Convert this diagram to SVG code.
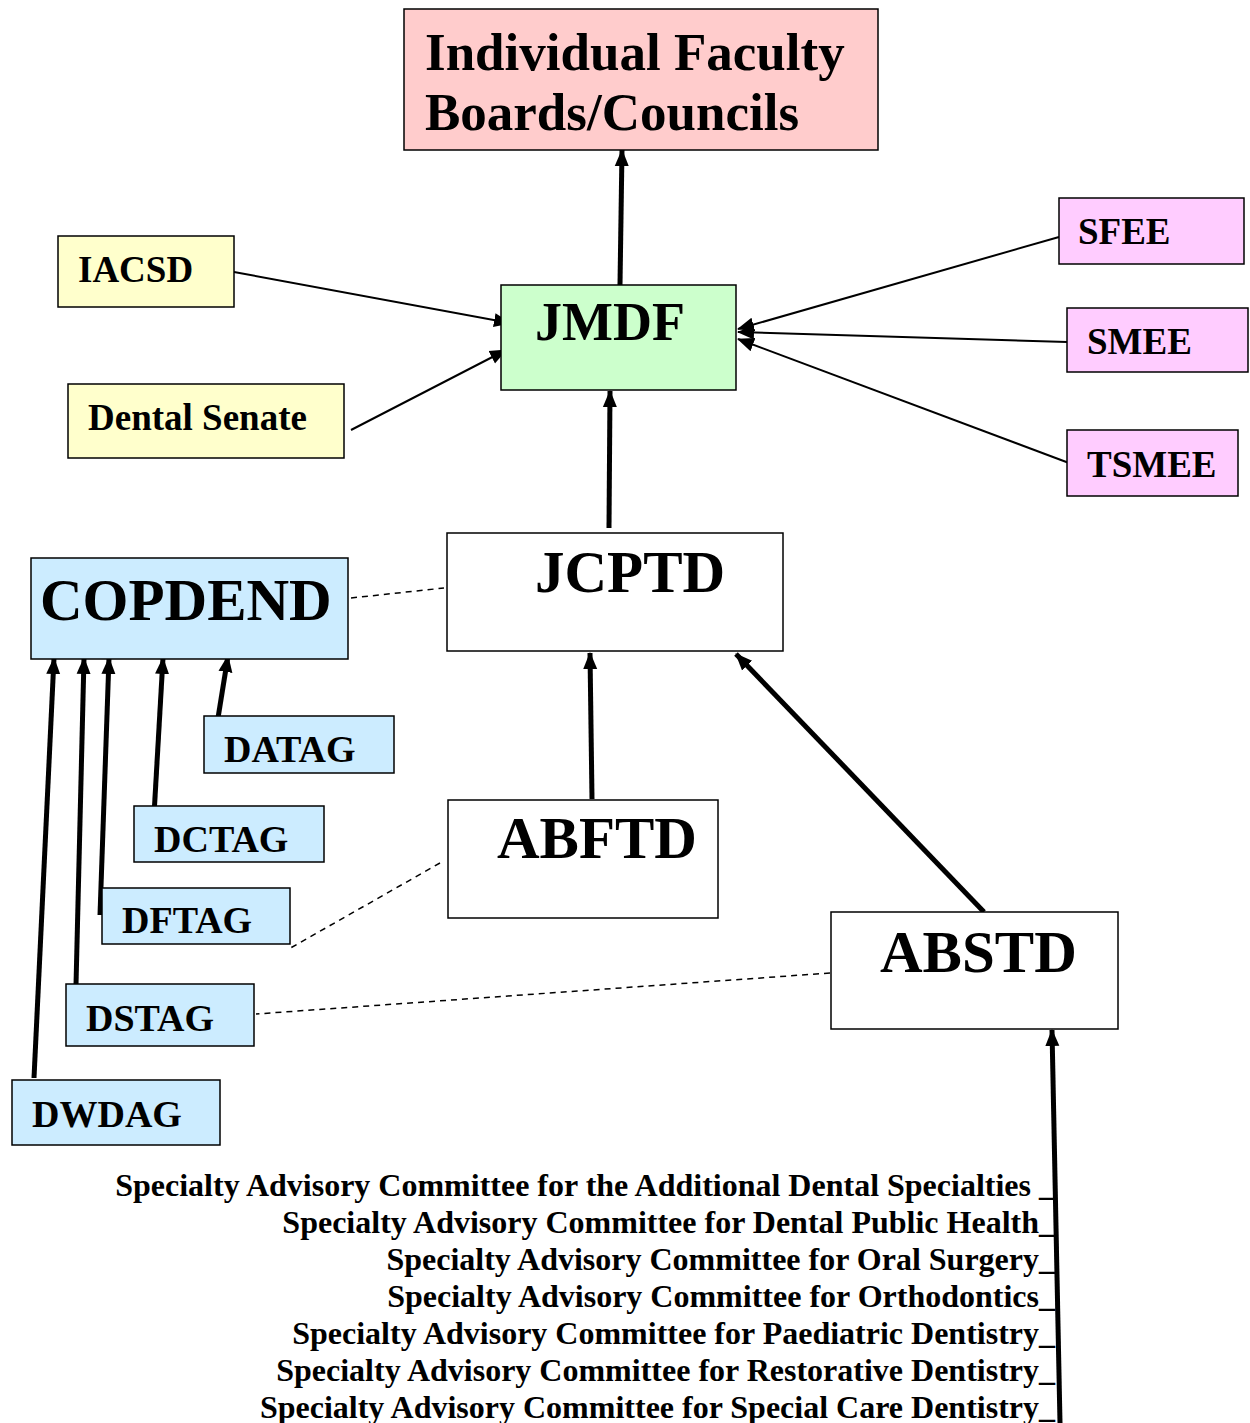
<svg xmlns="http://www.w3.org/2000/svg" width="1250" height="1423" viewBox="0 0 1250 1423">
<style>
.box{stroke:#000;stroke-width:1.5}
.t{font-family:"Liberation Serif","Times New Roman",serif;font-weight:bold;fill:#000}
.thick{stroke:#000;stroke-width:5;fill:none}
.thin{stroke:#000;stroke-width:2;fill:none}
.dash{stroke:#000;stroke-width:1.5;stroke-dasharray:6,5;fill:none}
</style>
<defs>
<marker id="ah" markerUnits="userSpaceOnUse" markerWidth="18" markerHeight="18" refX="16" refY="9" orient="auto">
<path d="M0,2 L17,9 L0,16 Z" fill="#000"/>
</marker>
</defs>
<rect width="1250" height="1423" fill="#fff"/>
<g id="connectors">
<line class="thick" x1="620" y1="285" x2="622" y2="150" marker-end="url(#ah)"/>
<line class="thin" x1="234" y1="272" x2="510" y2="323" marker-end="url(#ah)"/>
<line class="thin" x1="351" y1="430" x2="506" y2="350" marker-end="url(#ah)"/>
<line class="thin" x1="1059" y1="237" x2="738" y2="329" marker-end="url(#ah)"/>
<line class="thin" x1="1067" y1="342" x2="738" y2="332" marker-end="url(#ah)"/>
<line class="thin" x1="1069" y1="463" x2="738" y2="339" marker-end="url(#ah)"/>
<line class="thick" x1="609" y1="528" x2="610" y2="391" marker-end="url(#ah)"/>
<line class="dash" x1="351" y1="598" x2="444" y2="588"/>
<line class="thick" x1="592" y1="799" x2="590" y2="653" marker-end="url(#ah)"/>
<line class="thick" x1="984" y1="912" x2="736" y2="654" marker-end="url(#ah)"/>
<line class="dash" x1="440" y1="863" x2="287" y2="950"/>
<line class="dash" x1="830" y1="973" x2="256" y2="1014"/>
<line class="thick" x1="218" y1="718" x2="228" y2="656" marker-end="url(#ah)"/>
<line class="thick" x1="154" y1="815" x2="163" y2="658" marker-end="url(#ah)"/>
<line class="thick" x1="100" y1="915" x2="109" y2="658" marker-end="url(#ah)"/>
<line class="thick" x1="76" y1="985" x2="84" y2="658" marker-end="url(#ah)"/>
<line class="thick" x1="34" y1="1078" x2="54" y2="658" marker-end="url(#ah)"/>
<line class="thick" x1="1060" y1="1423" x2="1052" y2="1030" marker-end="url(#ah)"/>
</g>
<g id="ifb">
<rect class="box" x="404" y="9" width="474" height="141" fill="#FFCCCC"/>
<text class="t" x="425" y="70" font-size="53">Individual Faculty</text>
<text class="t" x="425" y="130" font-size="53">Boards/Councils</text>
</g>
<g id="jmdf">
<rect class="box" x="501" y="285" width="235" height="105" fill="#CCFFCC"/>
<text class="t" x="535" y="340" font-size="54">JMDF</text>
</g>
<g id="iacsd">
<rect class="box" x="58" y="236" width="176" height="71" fill="#FFFFCC"/>
<text class="t" x="78" y="282" font-size="37">IACSD</text>
</g>
<g id="dentalsenate">
<rect class="box" x="68" y="384" width="276" height="74" fill="#FFFFCC"/>
<text class="t" x="88" y="430" font-size="37">Dental Senate</text>
</g>
<g id="sfee">
<rect class="box" x="1059" y="198" width="185" height="66" fill="#FFCCFF"/>
<text class="t" x="1078" y="244" font-size="37">SFEE</text>
</g>
<g id="smee">
<rect class="box" x="1067" y="308" width="181" height="64" fill="#FFCCFF"/>
<text class="t" x="1087" y="354" font-size="37">SMEE</text>
</g>
<g id="tsmee">
<rect class="box" x="1067" y="430" width="171" height="66" fill="#FFCCFF"/>
<text class="t" x="1087" y="477" font-size="37">TSMEE</text>
</g>
<g id="copdend">
<rect class="box" x="31" y="558" width="317" height="101" fill="#CCECFF"/>
<text class="t" x="40" y="620" font-size="59">COPDEND</text>
</g>
<g id="jcptd">
<rect class="box" x="447" y="533" width="336" height="118" fill="#fff"/>
<text class="t" x="535" y="592" font-size="59">JCPTD</text>
</g>
<g id="datag">
<rect class="box" x="204" y="716" width="190" height="57" fill="#CCECFF"/>
<text class="t" x="224" y="762" font-size="38">DATAG</text>
</g>
<g id="dctag">
<rect class="box" x="134" y="806" width="190" height="56" fill="#CCECFF"/>
<text class="t" x="154" y="852" font-size="38">DCTAG</text>
</g>
<g id="dftag">
<rect class="box" x="102" y="888" width="188" height="56" fill="#CCECFF"/>
<text class="t" x="122" y="933" font-size="38">DFTAG</text>
</g>
<g id="dstag">
<rect class="box" x="66" y="984" width="188" height="62" fill="#CCECFF"/>
<text class="t" x="86" y="1031" font-size="38">DSTAG</text>
</g>
<g id="dwdag">
<rect class="box" x="12" y="1080" width="208" height="65" fill="#CCECFF"/>
<text class="t" x="32" y="1127" font-size="38">DWDAG</text>
</g>
<g id="abftd">
<rect class="box" x="448" y="800" width="270" height="118" fill="#fff"/>
<text class="t" x="497" y="858" font-size="59">ABFTD</text>
</g>
<g id="abstd">
<rect class="box" x="831" y="912" width="287" height="117" fill="#fff"/>
<text class="t" x="880" y="972" font-size="59">ABSTD</text>
</g>
<g id="sacs" class="t" font-size="32" text-anchor="end">
<text x="1055" y="1196">Specialty Advisory Committee for the Additional Dental Specialties _</text>
<text x="1055" y="1233">Specialty Advisory Committee for Dental Public Health_</text>
<text x="1055" y="1270">Specialty Advisory Committee for Oral Surgery_</text>
<text x="1055" y="1307">Specialty Advisory Committee for Orthodontics_</text>
<text x="1055" y="1344">Specialty Advisory Committee for Paediatric Dentistry_</text>
<text x="1055" y="1381">Specialty Advisory Committee for Restorative Dentistry_</text>
<text x="1055" y="1418">Specialty Advisory Committee for Special Care Dentistry_</text>
</g>
</svg>
